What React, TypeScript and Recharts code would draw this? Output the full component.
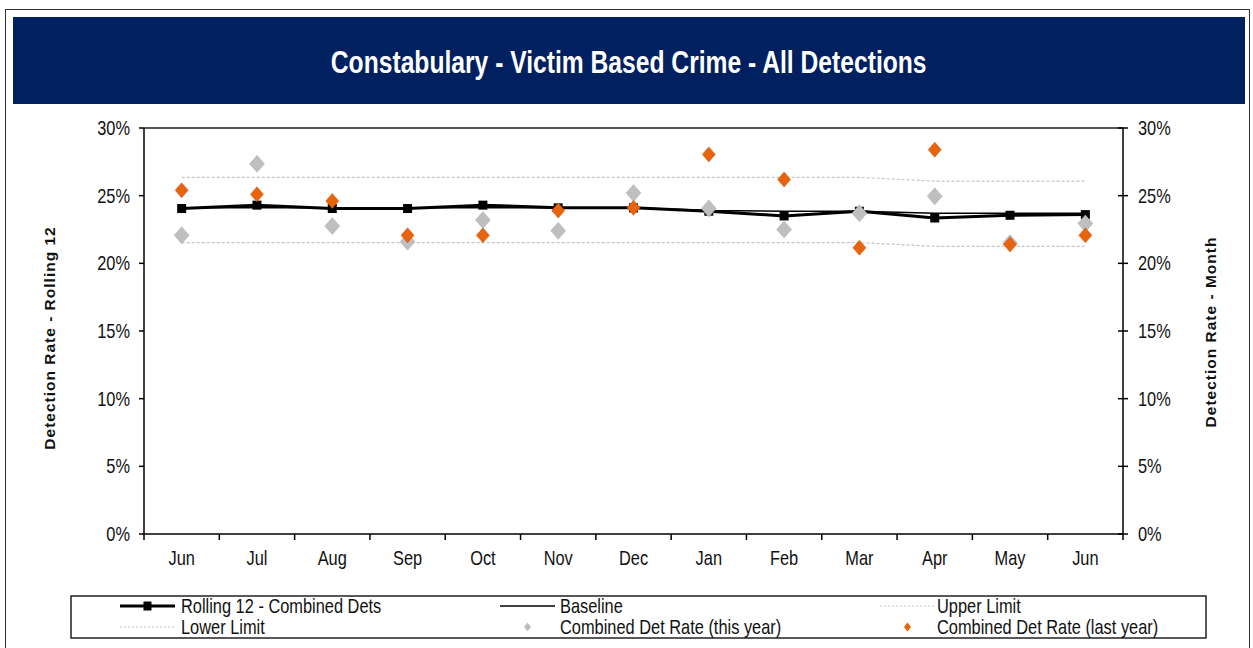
import React from 'react'
import { ComposedChart, Line, XAxis, YAxis, ReferenceLine } from 'recharts'

const months = ['Jun', 'Jul', 'Aug', 'Sep', 'Oct', 'Nov', 'Dec', 'Jan', 'Feb', 'Mar', 'Apr', 'May', 'Jun']
const rolling12 = [24.05, 24.3, 24.05, 24.05, 24.3, 24.1, 24.1, 23.85, 23.5, 23.85, 23.35, 23.55, 23.6]
const baseline = [24.1, 24.1, 24.1, 24.1, 24.1, 24.1, 24.1, 23.9, 23.85, 23.85, 23.7, 23.7, 23.7]
const upperLimit = [26.35, 26.35, 26.35, 26.35, 26.35, 26.35, 26.35, 26.35, 26.35, 26.35, 26.07, 26.07, 26.07]
const lowerLimit = [21.53, 21.53, 21.53, 21.53, 21.53, 21.53, 21.53, 21.53, 21.53, 21.53, 21.26, 21.26, 21.26]
const detRateThisYear = [22.07, 27.35, 22.75, 21.6, 23.2, 22.4, 25.2, 24.05, 22.5, 23.7, 24.95, 21.5, 22.95]
const detRateLastYear = [25.4, 25.1, 24.6, 22.07, 22.07, 23.9, 24.1, 28.05, 26.2, 21.15, 28.4, 21.4, 22.07]
const yTicks = [0, 5, 10, 15, 20, 25, 30]

const legendItems = [
  { name: 'Rolling 12 - Combined Dets', kind: 'rolling' },
  { name: 'Baseline', kind: 'baseline' },
  { name: 'Upper Limit', kind: 'limit' },
  { name: 'Lower Limit', kind: 'limit' },
  { name: 'Combined Det Rate (this year)', kind: 'this' },
  { name: 'Combined Det Rate (last year)', kind: 'last' }
]

// the month list repeats "Jun", so the x axis runs on the position index
const data = months.map((month, i) => ({
  idx: i,
  month,
  rolling: rolling12[i],
  baseline: baseline[i],
  upper: upperLimit[i],
  lower: lowerLimit[i],
  thisYear: detRateThisYear[i],
  lastYear: detRateLastYear[i]
}))

const W = 1253
const H = 648
const M = { top: 128, right: 70, bottom: 84, left: 84 }
const AXIS_W = 60
const PLOT_W = W - M.left - M.right - 2 * AXIS_W
const BAND = PLOT_W / months.length

const SANS = "'Liberation Sans', Arial, sans-serif"
const SQUEEZE = 0.82 // no narrow font installed, so squeeze Liberation Sans
const TEXT = '#111'
const GREY = '#bfbfbf'
const ORANGE = '#e8640c'
const DASH = '#c4c4c4'

const NarrowText = ({ x, y, anchor = 'start', size = 20, weight = 'normal', fill = TEXT, dy = '0', children }: any) => (
  <text
    transform={`translate(${x} ${y}) scale(${SQUEEZE} 1)`}
    textAnchor={anchor}
    dy={dy}
    fill={fill}
    fontSize={size}
    fontWeight={weight}
    fontFamily={SANS}
  >
    {children}
  </text>
)

const diamond = (cx: number, cy: number, w: number, h: number) =>
  `M${cx},${cy - h} L${cx + w},${cy} L${cx},${cy + h} L${cx - w},${cy} Z`

const SquareDot = ({ cx, cy }: any) => {
  if (cx == null || cy == null) return null
  return <rect x={cx - 4.5} y={cy - 4.5} width={9} height={9} fill="#000" />
}

const GreyDiamond = ({ cx, cy }: any) => {
  if (cx == null || cy == null) return null
  return <path d={diamond(cx, cy, 7.5, 8.5)} fill={GREY} stroke="#b0b0b0" strokeWidth={0.5} />
}

const OrangeDiamond = ({ cx, cy }: any) => {
  if (cx == null || cy == null) return null
  return <path d={diamond(cx, cy, 6.5, 7.5)} fill={ORANGE} stroke="#c85208" strokeWidth={0.5} />
}

// ticks sit between categories, labels in the middle
const MonthTick = ({ x, y, payload, index }: any) => {
  const top = y - 6
  return (
    <g>
      <line x1={x - BAND / 2} x2={x - BAND / 2} y1={top} y2={top + 6} stroke="#000" strokeWidth={1.5} />
      {index === months.length - 1 && (
        <line x1={x + BAND / 2} x2={x + BAND / 2} y1={top} y2={top + 6} stroke="#000" strokeWidth={1.5} />
      )}
      <NarrowText x={x} y={top + 31} anchor="middle">
        {months[payload.value]}
      </NarrowText>
    </g>
  )
}

const LeftTick = ({ x, y, payload }: any) => (
  <NarrowText x={x} y={y} anchor="end" dy="0.35em">
    {`${payload.value}%`}
  </NarrowText>
)

const RightTick = ({ x, y, payload }: any) => (
  <g>
    <line x1={x - 20} x2={x - 10} y1={y} y2={y} stroke="#000" strokeWidth={1.5} />
    <NarrowText x={x} y={y} dy="0.35em">
      {`${payload.value}%`}
    </NarrowText>
  </g>
)

const AxisTitle = ({ viewBox, text, side }: any) => {
  if (!viewBox) return null
  const cx = side === 'left' ? viewBox.x - 35 : viewBox.x + viewBox.width + 27
  const cy = viewBox.y + viewBox.height / 2 + (side === 'left' ? 7 : 1)
  return (
    <text
      x={cx}
      y={cy}
      transform={`rotate(-90 ${cx} ${cy})`}
      textAnchor="middle"
      dominantBaseline="central"
      fill={TEXT}
      fontSize={15.5}
      fontWeight="bold"
      letterSpacing={1}
      fontFamily={SANS}
    >
      {text}
    </text>
  )
}

const LegendBox = () => {
  const symX = [120, 500, 880]
  const textX = [181, 560, 937]
  const rowY = [606, 627]
  return (
    <svg width={W} height={H} style={{ position: 'absolute', left: 0, top: 0, pointerEvents: 'none' }}>
      <rect x={71} y={596} width={1135} height={42} fill="none" stroke="#222" strokeWidth={1.5} />
      {legendItems.map((item, i) => {
        const col = i % 3
        const y = rowY[Math.floor(i / 3)]
        const x0 = symX[col]
        const mid = x0 + 27.5
        let sym = null
        if (item.kind === 'rolling') {
          sym = (
            <g>
              <line x1={x0} x2={x0 + 55} y1={y} y2={y} stroke="#000" strokeWidth={3} />
              <rect x={mid - 4} y={y - 4.5} width={8} height={9} fill="#000" />
            </g>
          )
        } else if (item.kind === 'baseline') {
          sym = <line x1={x0} x2={x0 + 55} y1={y} y2={y} stroke="#000" strokeWidth={1.5} />
        } else if (item.kind === 'limit') {
          sym = <line x1={x0} x2={x0 + 55} y1={y} y2={y} stroke={DASH} strokeWidth={1} strokeDasharray="2 2" />
        } else if (item.kind === 'this') {
          sym = <path d={diamond(mid, y, 3.5, 4.5)} fill={GREY} />
        } else {
          sym = <path d={diamond(mid, y, 3.5, 4.5)} fill={ORANGE} />
        }
        return (
          <g key={item.name}>
            {sym}
            <NarrowText x={textX[col]} y={y} dy="0.35em" size={20}>
              {item.name}
            </NarrowText>
          </g>
        )
      })}
    </svg>
  )
}

export default function App() {
  return (
    <div style={{ position: 'absolute', left: 0, top: 0, width: W, height: H, background: '#fff', overflow: 'hidden' }}>
      <div
        style={{
          position: 'absolute',
          left: 5,
          top: 9,
          width: 1245,
          height: 660,
          border: '1.5px solid #333',
          boxSizing: 'border-box'
        }}
      />
      <div
        style={{
          position: 'absolute',
          left: 13,
          top: 17,
          width: 1232,
          height: 87,
          paddingTop: 5,
          boxSizing: 'border-box',
          background: '#002060',
          color: '#fff',
          display: 'flex',
          alignItems: 'center',
          justifyContent: 'center',
          fontFamily: SANS,
          fontWeight: 'bold',
          fontSize: 31
        }}
      >
        <span style={{ display: 'inline-block', transform: 'scaleX(0.795)', whiteSpace: 'nowrap' }}>
          Constabulary - Victim Based Crime - All Detections
        </span>
      </div>
      <div style={{ position: 'absolute', left: 0, top: 0 }}>
        <ComposedChart width={W} height={H} data={data} margin={M}>
          <XAxis
            dataKey="idx"
            type="category"
            padding={{ left: BAND / 2, right: BAND / 2 }}
            height={30}
            axisLine={{ stroke: '#000', strokeWidth: 1.5 }}
            tickLine={false}
            tickSize={6}
            tickMargin={0}
            interval={0}
            tick={<MonthTick />}
          />
          <YAxis
            yAxisId="left"
            orientation="left"
            width={AXIS_W}
            domain={[0, 30]}
            ticks={yTicks}
            interval={0}
            axisLine={{ stroke: '#000', strokeWidth: 1.5 }}
            tickLine={{ stroke: '#000', strokeWidth: 1.5 }}
            tickSize={5}
            tickMargin={9}
            tick={<LeftTick />}
            label={<AxisTitle side="left" text="Detection Rate - Rolling 12" />}
          />
          <YAxis
            yAxisId="right"
            orientation="right"
            width={AXIS_W}
            domain={[0, 30]}
            ticks={yTicks}
            interval={0}
            axisLine={{ stroke: '#000', strokeWidth: 1.5 }}
            tickLine={false}
            tickSize={5}
            tickMargin={10}
            tick={<RightTick />}
            label={<AxisTitle side="right" text="Detection Rate - Month" />}
          />
          <ReferenceLine yAxisId="left" y={30} stroke="#555" strokeWidth={2} />
          <Line yAxisId="left" dataKey="upper" stroke={DASH} strokeWidth={1.2} strokeDasharray="3 2" dot={false} activeDot={false} isAnimationActive={false} />
          <Line yAxisId="left" dataKey="lower" stroke={DASH} strokeWidth={1.2} strokeDasharray="3 2" dot={false} activeDot={false} isAnimationActive={false} />
          <Line yAxisId="left" dataKey="baseline" stroke="#000" strokeWidth={1.5} dot={false} activeDot={false} isAnimationActive={false} />
          <Line yAxisId="left" dataKey="rolling" stroke="#000" strokeWidth={3} dot={<SquareDot />} activeDot={false} isAnimationActive={false} />
          <Line yAxisId="right" dataKey="thisYear" stroke="none" strokeWidth={0} dot={<GreyDiamond />} activeDot={false} isAnimationActive={false} />
          <Line yAxisId="right" dataKey="lastYear" stroke="none" strokeWidth={0} dot={<OrangeDiamond />} activeDot={false} isAnimationActive={false} />
        </ComposedChart>
      </div>
      <LegendBox />
    </div>
  )
}
